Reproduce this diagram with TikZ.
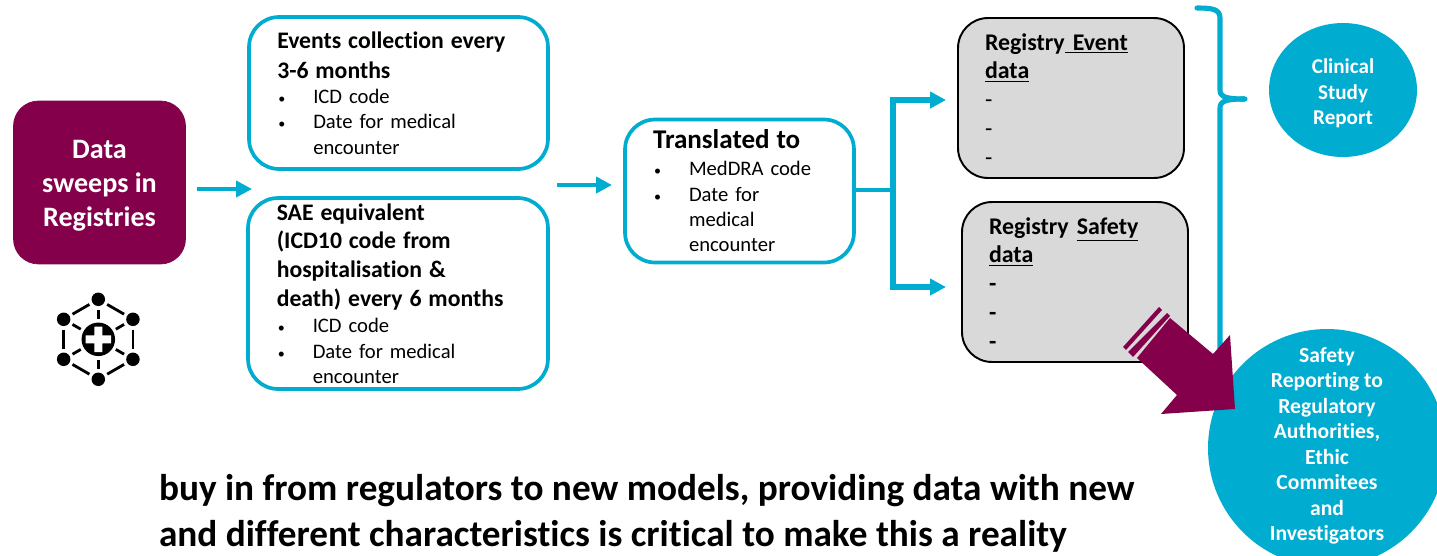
\documentclass[tikz,border=0pt]{standalone}
\usepackage{fontspec}
\setmainfont{Carlito}[Ligatures=NoCommon]
\usetikzlibrary{arrows.meta,calc,shapes.geometric}
\definecolor{regblue}{HTML}{00ACCF}
\definecolor{regpurple}{HTML}{85004B}
\definecolor{reggrey}{HTML}{D9D9D9}
\newcommand{\hd}[1]{{\fontsize{13.5}{16}\selectfont\bfseries #1}}
\newcommand{\bul}[1]{\hspace*{0.02cm}\makebox[0.70cm][l]{\fontsize{8}{8}\selectfont\textbullet}#1}
\newcommand{\cont}[1]{\hspace*{0.72cm}#1}
\begin{document}
\begin{tikzpicture}[x=0.02cm, y=0.02cm]
    \tikzstyle{every node}+=[inner sep=0pt, outer sep=0pt]
    \tikzstyle{bluebox}=[draw=regblue, line width=2.1pt, rounded corners=0.6cm, fill=white, align=left, font=\fontsize{11.75}{14.4}\selectfont, inner xsep=0.56cm]
    \tikzstyle{greybox}=[draw=black, line width=1.1pt, rounded corners=0.6cm, fill=reggrey, align=left, font=\fontsize{13.6}{16.4}\selectfont, inner xsep=0.54cm]
    \tikzstyle{bluedisc}=[fill=regblue, text=white, align=center, font=\fontsize{12.3}{14.5}\selectfont\bfseries]
    \tikzstyle{flow}=[draw=regblue, line width=2.6pt, -{Triangle[length=9pt,width=9pt]}]
    \tikzstyle{tree}=[draw=regblue, line width=2.9pt, -{Triangle[length=9pt,width=9pt]}]
    \tikzstyle{bus}=[draw=regblue, line width=2.6pt]
    \tikzstyle{iconnode}=[circle, fill=black, minimum size=0.27cm]
    \tikzstyle{iconline}=[draw=black, line width=1.6pt, shorten >=0.07cm, shorten <=0.07cm]
    \useasboundingbox (0,0) rectangle (1437,-555);
    \node [draw=regpurple, fill=regpurple, rounded corners=0.5cm, minimum width=3.44cm, minimum height=3.26cm, text=white, align=center, font=\fontsize{16}{19.5}\selectfont\bfseries] (sweeps) at (99.5,-182.5) {\rule{0pt}{14.3pt}Data\\sweeps in\\Registries};
    \node [bluebox, text width=4.85cm, minimum width=5.98cm, minimum height=3.04cm] (events) at (398.5,-93) {\hd{Events collection every}\\[2.5pt]\hd{3-6 months}\\[0pt]\bul{ICD code}\\\bul{Date for medical}\\\cont{encounter}};
    \node [bluebox, text width=4.85cm, minimum width=6cm, minimum height=3.82cm] (sae) at (398,-293.5) {\hd{SAE equivalent}\\[2pt]\hd{(ICD10 code from}\\[2pt]\hd{hospitalisation \&}\\[2pt]\hd{death) every 6 months}\\[0.5pt]\bul{ICD code}\\\bul{Date for medical}\\\cont{encounter}};
    \node [bluebox, text width=3.46cm, minimum width=4.56cm, minimum height=2.86cm] (translated) at (739.5,-191) {{\fontsize{15.4}{16}\selectfont\bfseries Translated to}\\[1pt]\bul{MedDRA code}\\\bul{Date for}\\\cont{medical}\\\cont{encounter}};
    \node [greybox, text width=3.44cm, minimum width=4.52cm, minimum height=3.2cm] (eventdata) at (1071,-98) {\rule{0pt}{11pt}\textbf{Registry\underline{\ Event}}\\\textbf{\underline{data}}\\-\\-\\-};
    \node [greybox, text width=3.44cm, minimum width=4.52cm, minimum height=3.2cm] (safetydata) at (1075,-282) {\rule{0pt}{11pt}\textbf{Registry \underline{Safety}}\\\textbf{\underline{data}}\\\textbf{-}\\\textbf{-}\\\textbf{-}};
    \node [bluedisc, ellipse, minimum width=2.96cm, minimum height=2.68cm, font=\fontsize{12}{14.7}\selectfont\bfseries] (csr) at (1343,-90) {\rule{0pt}{12.2pt}Clinical\\Study\\Report};
    \node [bluedisc, circle, minimum size=4.76cm] (reporting) at (1327,-448) {Safety\\Reporting to\\Regulatory\\Authorities,\\Ethic\\Commitees\\and\\Investigators\rule[-4.6pt]{0pt}{1pt}};
    \coordinate (arrowastart) at (197,-189);
    \coordinate (arrowaend) at (252,-189);
    \coordinate (arrowbstart) at (557,-185);
    \coordinate (arrowbend) at (612,-185);
    \coordinate (busmid) at (893,-190);
    \coordinate (bustop) at (893,-100);
    \coordinate (busbottom) at (893,-287);
    \coordinate (eventtip) at (946,-100);
    \coordinate (safetytip) at (946,-287);
    \draw [flow] (arrowastart) -- (arrowaend);
    \draw [flow] (arrowbstart) -- (arrowbend);
    \draw [bus] (translated.east |- busmid) -- (busmid);
    \draw [tree] (busmid) -- (bustop) -- (eventtip);
    \draw [tree] (busmid) -- (busbottom) -- (safetytip);
    \coordinate (bracetop) at (1197,-8);
    \coordinate (bracetip) at (1245,-99);
    \coordinate (braceend) at (1220,-350);
    \draw [draw=regblue, line width=2.9pt, line cap=round] (bracetop) .. controls (1212,-8) and (1220,-9) .. (1220,-18) -- (1220,-90) .. controls (1220,-97) and (1226,-99) .. (bracetip);
    \draw [draw=regblue, line width=2.9pt] (bracetip) .. controls (1226,-99) and (1220,-101) .. (1220,-108) -- (braceend);
    \fill [regpurple] (1170,-318) -- (1213,-354) -- (1230,-335) -- (1235,-409) -- (1161,-414) -- (1177,-395) -- (1137,-358) -- cycle;
    \fill [regpurple] (1167,-313) -- (1170,-316) -- (1133,-357) -- (1128,-352) -- cycle;
    \fill [regpurple] (1159,-307) -- (1162,-310) -- (1126,-350) -- (1123,-347) -- cycle;
    \node [iconnode, minimum size=0.67cm] (hub) at (98.3,-339.3) {};
    \fill [white] (94.3,-326.6) rectangle (102.3,-352) (85.6,-335.3) rectangle (111,-343.3);
    \foreach \i in {1,...,6} {
        \node [iconnode] (spoke\i) at ($(hub)+({30+60*\i}:40)$) {};
        \draw [iconline] (hub) -- (spoke\i);
    }
    \foreach \i/\j in {1/2,2/3,3/4,4/5,5/6,6/1} {
        \draw [iconline] (spoke\i) -- (spoke\j);
    }
    \node [anchor=north west, align=left, font=\fontsize{21.2}{26.1}\selectfont\bfseries] (buyin) at (159,-474) {buy in from regulators to new models, providing data with new\\and different characteristics is critical to make this a reality};
\end{tikzpicture}
\end{document}
